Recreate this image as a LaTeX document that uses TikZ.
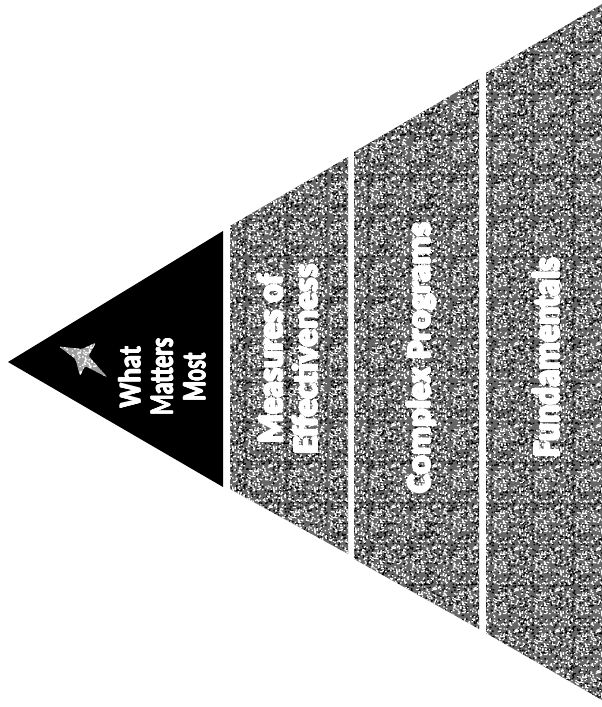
\documentclass[tikz,border=0pt]{standalone}
\usepackage{fontspec}
\usepackage{graphicx}
\usetikzlibrary{patterns}
\newfontfamily\labfont{Carlito}
\definecolor{segcolor}{gray}{0.40}
\definecolor{starcolor}{gray}{0.62}
\pgfmathsetseed{4242}
\pgfdeclarepatternformonly{whitenoise}{\pgfpointorigin}{\pgfqpoint{41pt}{41pt}}{\pgfqpoint{41pt}{41pt}}{%
  \foreach \i in {1,...,230}{%
    \pgfmathsetmacro\xx{39.5*rnd}\pgfmathsetmacro\yy{39.5*rnd}%
    \pgfpathrectangle{\pgfpoint{\xx pt}{\yy pt}}{\pgfpoint{1.5pt}{1.3pt}}}%
  \pgfusepath{fill}}
\pgfdeclarepatternformonly{blacknoise}{\pgfpointorigin}{\pgfqpoint{47pt}{47pt}}{\pgfqpoint{47pt}{47pt}}{%
  \foreach \i in {1,...,200}{%
    \pgfmathsetmacro\xx{45.5*rnd}\pgfmathsetmacro\yy{45.5*rnd}%
    \pgfpathrectangle{\pgfpoint{\xx pt}{\yy pt}}{\pgfpoint{1.5pt}{1.5pt}}}%
  \pgfusepath{fill}}
\newsavebox\hbx
\newcommand\hcopy[2]{\rlap{\kern#1\raisebox{#2}{\usebox\hbx}}}
\newcommand\fatten{\hcopy{0.4pt}{0pt}\hcopy{-0.4pt}{0pt}\hcopy{0pt}{0.4pt}\hcopy{0pt}{-0.4pt}}
\newcommand\hl[3]{\sbox\hbx{\resizebox{#1}{#2}{#3}}%
 {\color{black}\hcopy{1.1pt}{0pt}\hcopy{-1.1pt}{0pt}\hcopy{0pt}{1.1pt}\hcopy{0pt}{-1.1pt}%
 \hcopy{0.8pt}{0.8pt}\hcopy{-0.8pt}{0.8pt}\hcopy{0.8pt}{-0.8pt}\hcopy{-0.8pt}{-0.8pt}}%
 {\color{white}\fatten\usebox\hbx}}
\newcommand\pl[3]{\sbox\hbx{\resizebox{#1}{#2}{#3}}{\color{white}\fatten\usebox\hbx}}
\tikzset{
  seg/.style={fill=segcolor},
  lbl/.style={text=white, inner sep=0pt, outer sep=0pt, rotate=90, font=\labfont\bfseries},
}
\begin{document}
\begin{tikzpicture}[x=1pt,y=-1pt]
\useasboundingbox (0,0) rectangle (602,707);
% tiers
\fill[black] (8,362) -- (223,231) -- (223,487) -- cycle;
\foreach \p in {{(230,226) -- (348,157) -- (348,554) -- (230,489) -- cycle},
                {(354,152) -- (479,79) -- (479,629) -- (354,559) -- cycle},
                {(486,73) -- (602,4) -- (602,700) -- (486,633) -- cycle}}{
  \fill[seg] \p;
  \fill[pattern=blacknoise, pattern color=black] \p;
  \fill[pattern=whitenoise, pattern color=white] \p;
}
% star
\fill[starcolor, rounded corners=1.5pt] (59,346.5) -- (82,349) -- (96,342.5) -- (88.5,356)
  -- (107.5,377.5) -- (85,366) -- (80,376) -- (75.5,359) -- cycle;
\fill[pattern=whitenoise, pattern color=white, rounded corners=1.5pt] (59,346.5) -- (82,349) -- (96,342.5) -- (88.5,356)
  -- (107.5,377.5) -- (85,366) -- (80,376) -- (75.5,359) -- cycle;
% labels
\node[lbl, align=center, font=\labfont\bfseries\fontsize{30}{32.5}\selectfont] (top) at (162,377)
  {\pl{62pt}{22pt}{What}\\\pl{77pt}{22pt}{Matters}\\\pl{48pt}{22pt}{Most}};
\node[lbl, align=center, font=\labfont\bfseries\fontsize{30}{34.5}\selectfont] (moe) at (287.75,359)
  {\hl{169pt}{24.5pt}{Measures of}\\\hl{190pt}{24.5pt}{Effectiveness}};
\node[lbl, anchor=base] (cp) at (430,358) {\hl{270pt}{23pt}{Complex Programs}};
\node[lbl, anchor=base] (fun) at (559,357.5) {\hl{199pt}{26pt}{Fundamentals}};
\end{tikzpicture}
\end{document}
